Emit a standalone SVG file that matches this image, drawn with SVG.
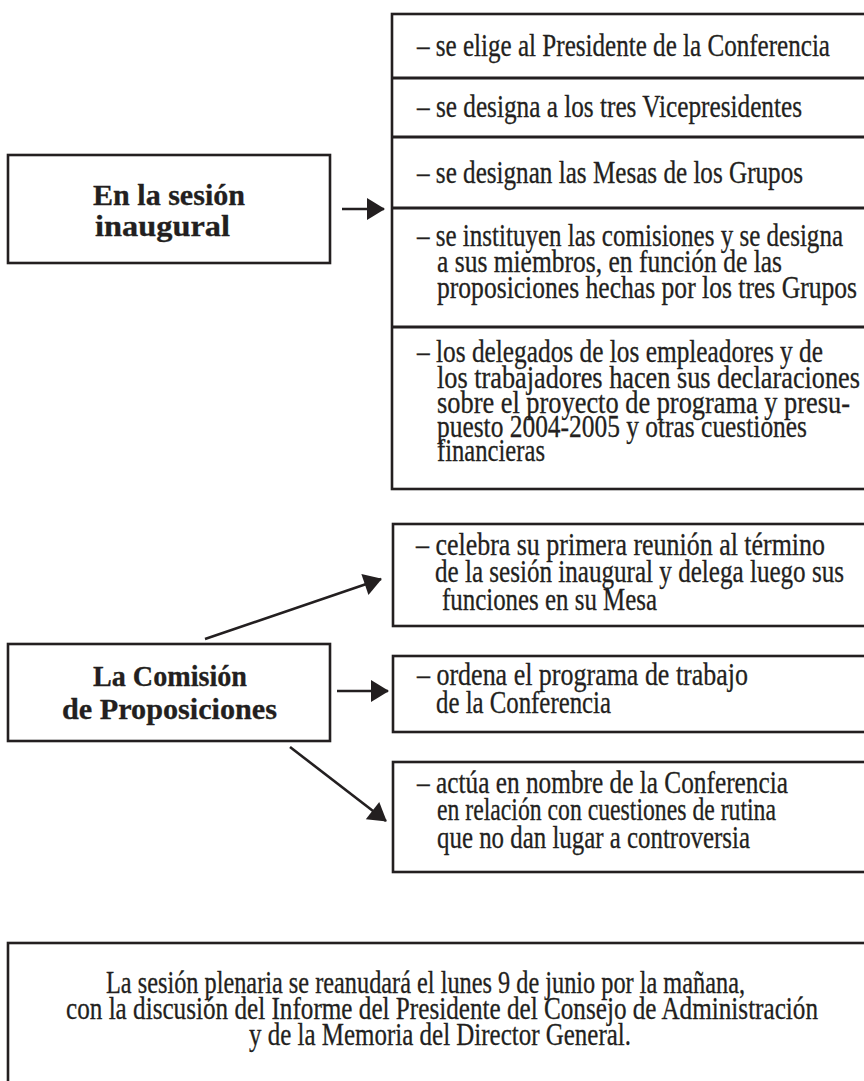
<svg xmlns="http://www.w3.org/2000/svg" width="864" height="1081" viewBox="0 0 864 1081">
<style>
.box{fill:#fff;stroke:#231f20;stroke-width:2.6}
.div{stroke:#231f20;stroke-width:3}
.t{font-family:"Liberation Serif","Times New Roman",serif;font-size:31px;fill:#231f20;stroke:#231f20;stroke-width:0.3}
.b{font-weight:bold;font-size:30px}
.c{stroke:#231f20;stroke-width:2.6;fill:none}
</style>
<defs>
<marker id="ah" markerUnits="userSpaceOnUse" markerWidth="20" markerHeight="24" viewBox="0 -12 18 24" refX="17" refY="0" orient="auto">
<path d="M0,-11 L18,0 L0,11 z" fill="#231f20"/>
</marker>
</defs>
<rect width="864" height="1081" fill="#fff"/>

<g id="node-sesion-inaugural">
<rect class="box" x="8" y="155" width="322" height="108"/>
<text class="t b" x="93" y="205" textLength="152" lengthAdjust="spacingAndGlyphs">En la sesión</text>
<text class="t b" x="95" y="236" textLength="135" lengthAdjust="spacingAndGlyphs">inaugural</text>
</g>

<g id="node-inaugural-list">
<rect class="box" x="392" y="14" width="480" height="475"/>
<line class="div" x1="392" y1="78" x2="872" y2="78"/>
<line class="div" x1="392" y1="137" x2="872" y2="137"/>
<line class="div" x1="392" y1="208" x2="872" y2="208"/>
<line class="div" x1="392" y1="327" x2="872" y2="327"/>
<g id="item-presidente">
<text class="t" x="417" y="56" textLength="413" lengthAdjust="spacingAndGlyphs">– se elige al Presidente de la Conferencia</text>
</g>
<g id="item-vicepresidentes">
<text class="t" x="417" y="117" textLength="385" lengthAdjust="spacingAndGlyphs">– se designa a los tres Vicepresidentes</text>
</g>
<g id="item-mesas">
<text class="t" x="417" y="183" textLength="386" lengthAdjust="spacingAndGlyphs">– se designan las Mesas de los Grupos</text>
</g>
<g id="item-comisiones">
<text class="t" x="417" y="246" textLength="426" lengthAdjust="spacingAndGlyphs">– se instituyen las comisiones y se designa</text>
<text class="t" x="437" y="272" textLength="345" lengthAdjust="spacingAndGlyphs">a sus miembros, en función de las</text>
<text class="t" x="437" y="298" textLength="420" lengthAdjust="spacingAndGlyphs">proposiciones hechas por los tres Grupos</text>
</g>
<g id="item-declaraciones">
<text class="t" x="417" y="362" textLength="406" lengthAdjust="spacingAndGlyphs">– los delegados de los empleadores y de</text>
<text class="t" x="437" y="388" textLength="423" lengthAdjust="spacingAndGlyphs">los trabajadores hacen sus declaraciones</text>
<text class="t" x="437" y="413" textLength="413" lengthAdjust="spacingAndGlyphs">sobre el proyecto de programa y presu-</text>
<text class="t" x="437" y="437" textLength="370" lengthAdjust="spacingAndGlyphs">puesto 2004-2005 y otras cuestiones</text>
<text class="t" x="437" y="461" textLength="108" lengthAdjust="spacingAndGlyphs">financieras</text>
</g>
</g>

<g id="node-comision">
<rect class="box" x="8" y="644" width="322" height="97"/>
<text class="t b" x="93" y="686" textLength="154" lengthAdjust="spacingAndGlyphs">La Comisión</text>
<text class="t b" x="62" y="719" textLength="215" lengthAdjust="spacingAndGlyphs">de Proposiciones</text>
</g>

<g id="node-celebra">
<rect class="box" x="393" y="524" width="479" height="102"/>
<text class="t" x="416" y="555" textLength="409" lengthAdjust="spacingAndGlyphs">– celebra su primera reunión al término</text>
<text class="t" x="435" y="582" textLength="409" lengthAdjust="spacingAndGlyphs">de la sesión inaugural y delega luego sus</text>
<text class="t" x="442" y="610" textLength="215" lengthAdjust="spacingAndGlyphs">funciones en su Mesa</text>
</g>

<g id="node-ordena">
<rect class="box" x="393" y="656" width="479" height="76"/>
<text class="t" x="417" y="685" textLength="331" lengthAdjust="spacingAndGlyphs">– ordena el programa de trabajo</text>
<text class="t" x="436" y="713" textLength="175" lengthAdjust="spacingAndGlyphs">de la Conferencia</text>
</g>

<g id="node-actua">
<rect class="box" x="393" y="762" width="479" height="110"/>
<text class="t" x="417" y="793" textLength="371" lengthAdjust="spacingAndGlyphs">– actúa en nombre de la Conferencia</text>
<text class="t" x="437" y="820" textLength="339" lengthAdjust="spacingAndGlyphs">en relación con cuestiones de rutina</text>
<text class="t" x="437" y="848" textLength="313" lengthAdjust="spacingAndGlyphs">que no dan lugar a controversia</text>
</g>

<g id="node-plenaria">
<rect class="box" x="8" y="943" width="864" height="150"/>
<text class="t" x="106" y="993" textLength="639" lengthAdjust="spacingAndGlyphs">La sesión plenaria se reanudará el lunes 9 de junio por la mañana,</text>
<text class="t" x="66" y="1019" textLength="752" lengthAdjust="spacingAndGlyphs">con la discusión del Informe del Presidente del Consejo de Administración</text>
<text class="t" x="249" y="1045" textLength="382" lengthAdjust="spacingAndGlyphs">y de la Memoria del Director General.</text>
</g>

<g id="connectors">
<line class="c" x1="342" y1="209" x2="384" y2="209" marker-end="url(#ah)"/>
<line class="c" x1="205" y1="639" x2="381" y2="579" marker-end="url(#ah)"/>
<line class="c" x1="337" y1="691" x2="388" y2="691" marker-end="url(#ah)"/>
<line class="c" x1="290" y1="747" x2="386" y2="821" marker-end="url(#ah)"/>
</g>
</svg>
